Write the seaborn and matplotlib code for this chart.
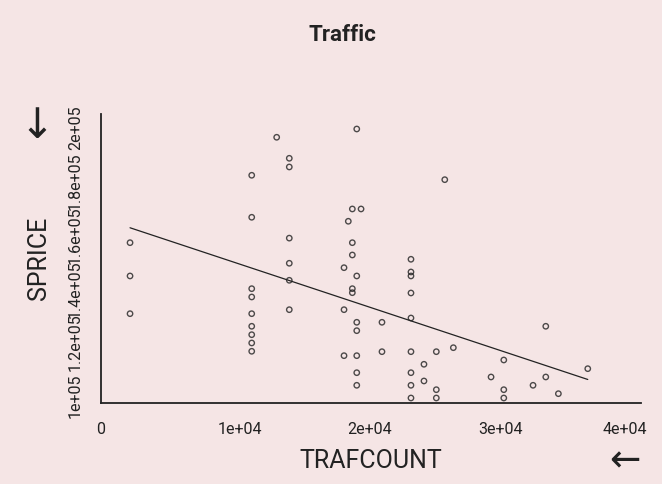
import seaborn as sns
import numpy as np
import pandas as pd
import matplotlib.pyplot as plt
import matplotlib.transforms as mtransforms

# values
trafcount = [1540, 1540, 1540,
             10900, 10900, 10900, 10900, 10900, 10900, 10900, 10900, 10900,
             12820,
             13790, 13790, 13790, 13790, 13790, 13790,
             18000, 18000, 18000, 18330,
             18640, 18640, 18640, 18640, 18640,
             18980, 18980, 18980, 18980, 18980, 18980, 18980,
             19310, 20920, 20920,
             23150, 23150, 23150, 23150, 23150, 23150, 23150, 23150, 23150,
             24150, 24150, 25100, 25100, 25100, 25750, 26410,
             29310, 30290, 30290, 30290, 32540, 33520, 33520, 34490, 36750]
sprice = [157200, 144780, 130710,
          182350, 166680, 140040, 136940, 130710, 126010, 122870, 119780, 116680,
          196530,
          188690, 185450, 158900, 149520, 143170, 132200,
          147870, 132200, 115040, 165190,
          169780, 157200, 152610, 140040, 138540,
          199620, 144780, 127500, 124370, 115040, 108690, 103990,
          169780, 127500, 116530,
          151010, 146270, 144780, 138430, 129100, 116530, 108690, 103990, 99250,
          111830, 105600, 116530, 102350, 99250, 180710, 118020,
          107090, 113430, 102350, 99250, 103990, 126010, 107090, 100860, 110190]

x_ticks = [0, 10000, 20000, 30000, 40000]
x_labels = ['0', '1e+04', '2e+04', '3e+04', '4e+04']
y_ticks = [100000, 120000, 140000, 160000, 180000, 200000]
y_labels = ['1e+05', '1.2e+05', '1.4e+05', '1.6e+05', '1.8e+05', '2e+05']

df = pd.DataFrame({'TRAFCOUNT': trafcount, 'SPRICE': sprice})

bg = '#f5e5e5'
ink = '#222222'
sns.set_style('white')
plt.rcParams['font.family'] = ['Roboto', 'DejaVu Sans']

fig = plt.figure(figsize=(6.62, 4.84), dpi=100, facecolor=bg)
ax = fig.add_axes([0.1526, 0.1674, 0.8157, 0.5971])
ax.set_facecolor(bg)

sns.regplot(data=df, x='TRAFCOUNT', y='SPRICE', ci=None, ax=ax,
            scatter_kws={'s': 15, 'facecolors': 'none', 'edgecolors': ink,
                         'linewidths': 1.0},
            line_kws={'color': ink, 'linewidth': 0.9})

ax.set_xlim(-692, 40846)
ax.set_ylim(97390, 205220)
ax.set_xticks(x_ticks)
ax.set_xticklabels(x_labels, fontsize=11.5, color=ink)
ax.set_yticks(y_ticks)
ax.set_yticklabels(y_labels, fontsize=11.5, color=ink, rotation=90, va='center')
ax.tick_params(length=0)
ax.tick_params(axis='x', pad=14)
ax.tick_params(axis='y', pad=13)

# edge labels are pulled inward a little in the reference
xl = ax.get_xticklabels()
xl[0].set_transform(xl[0].get_transform() +
                    mtransforms.ScaledTranslation(-9 / 100, 0, fig.dpi_scale_trans))
xl[-1].set_transform(xl[-1].get_transform() +
                     mtransforms.ScaledTranslation(-5 / 100, 0, fig.dpi_scale_trans))

for side in ['top', 'right']:
    ax.spines[side].set_visible(False)
for side in ['left', 'bottom']:
    ax.spines[side].set_color(ink)
    ax.spines[side].set_linewidth(1.3)

ax.set_xlabel('TRAFCOUNT', fontsize=18, color=ink, labelpad=8)
ax.set_ylabel('SPRICE', fontsize=18, color=ink, labelpad=12)

fig.text(0.518, 0.928, 'Traffic', ha='center', va='center',
         fontsize=16, fontweight='bold', color=ink)
# decorative arrows
fig.text(37 / 662, 1 - 126 / 484, '\u2193', ha='center', va='center',
         fontsize=30, color=ink, family='DejaVu Sans')
fig.text(625 / 662, 1 - 461 / 484, '\u2190', ha='center', va='center',
         fontsize=27, color=ink, family='DejaVu Sans')

fig.savefig('out.png', dpi=100, facecolor=bg)
